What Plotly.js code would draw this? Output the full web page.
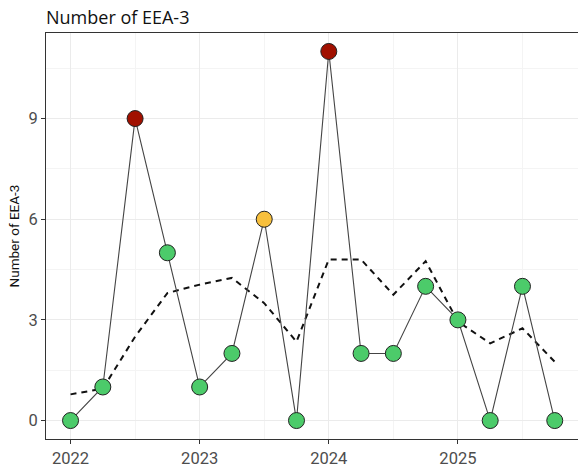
<!DOCTYPE html>
<html>
<head>
<meta charset="utf-8">
<script src="https://cdn.plot.ly/plotly-3.0.1.min.js"></script>
<style>html,body{margin:0;padding:0;background:#fff}#chart{width:578px;height:467px}</style>
</head>
<body>
<div id="chart"></div>
<script>
const quarters = [2022, 2022.25, 2022.5, 2022.75, 2023, 2023.25, 2023.5, 2023.75,
                  2024, 2024.25, 2024.5, 2024.75, 2025, 2025.25, 2025.5, 2025.75];
const counts = [0, 1, 9, 5, 1, 2, 6, 0, 11, 2, 2, 4, 3, 0, 4, 0];
const trend = [0.78, 0.95, 2.5, 3.8, 4.05, 4.25, 3.5, 2.35, 4.8, 4.8, 3.75, 4.75, 2.95, 2.3, 2.75, 1.75];
const levels = ['g','g','r','g','g','g','y','g','r','g','g','g','g','g','g','g'];
const levelColors = {g: '#4CCB6A', y: '#F8C03D', r: '#A11000'};
const xTicks = [2022, 2023, 2024, 2025];
const yTicks = [0, 3, 6, 9];

const data = [
  {x: quarters, y: trend, type: 'scatter', mode: 'lines',
   line: {color: '#111', width: 2, dash: '6px,5px'}, hoverinfo: 'skip'},
  {x: quarters, y: counts, type: 'scatter', mode: 'lines+markers',
   line: {color: '#444', width: 1.1},
   marker: {size: 16, color: levels.map(l => levelColors[l]), line: {color: '#222', width: 1}}}
];

const layout = {
  width: 578, height: 467,
  margin: {l: 46, r: 0, t: 33, b: 28},
  showlegend: false,
  paper_bgcolor: '#fff', plot_bgcolor: '#fff',
  font: {family: 'Roboto, sans-serif', color: '#4D4D4D'},
  title: {text: 'Number of EEA-3', x: 46/578, xanchor: 'left', y: 1 - 18/467, yanchor: 'middle',
          font: {family: '"Open Sans", sans-serif', size: 18, color: '#111'}},
  xaxis: {range: [2021.81, 2025.93], tickvals: xTicks, ticktext: xTicks.map(String),
          ticks: 'outside', ticklen: 4, tickcolor: '#333', tickfont: {size: 16.5, color: '#4D4D4D'},
          showgrid: true, gridcolor: '#EBEBEB', gridwidth: 1,
          minor: {dtick: 0.5, tick0: 2021.5, showgrid: true, gridcolor: '#F4F4F4', gridwidth: 1},
          showline: true, mirror: true, linecolor: '#333', linewidth: 1, zeroline: false},
  yaxis: {range: [-0.55, 11.55], tickvals: yTicks, ticktext: yTicks.map(String),
          ticks: 'outside', ticklen: 4, tickcolor: '#333', tickfont: {size: 16.5, color: '#4D4D4D'},
          showgrid: true, gridcolor: '#EBEBEB', gridwidth: 1,
          minor: {dtick: 1.5, tick0: 0, showgrid: true, gridcolor: '#F4F4F4', gridwidth: 1},
          showline: true, mirror: true, linecolor: '#333', linewidth: 1, zeroline: false,
          title: {text: 'Number of EEA-3', standoff: 5, font: {family: 'Roboto, sans-serif', size: 13.5, color: '#111'}}}
};

Plotly.newPlot('chart', data, layout, {displayModeBar: false, staticPlot: true});
</script>
</body>
</html>
